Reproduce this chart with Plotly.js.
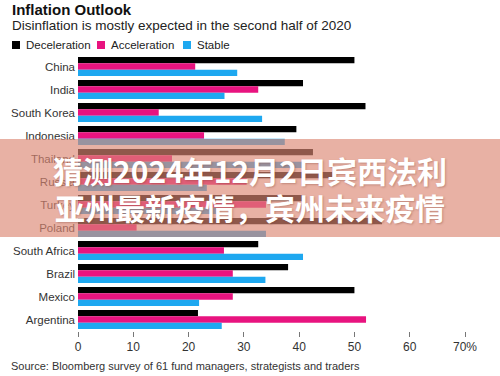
<!DOCTYPE html>
<html><head><meta charset="utf-8">
<script src="https://cdn.plot.ly/plotly-3.0.1.min.js"></script>
<style>html,body{margin:0;padding:0;background:#fff;}#chart{width:500px;height:376px;}</style>
</head><body><div id="chart"></div>
<script>
// ---- data ----
const countries = ['China','India','South Korea','Indonesia','Thailand','Russia','Turkey','Poland','South Africa','Brazil','Mexico','Argentina'];
const seriesNames = ['Deceleration','Acceleration','Stable'];
const deceleration = [50,40.7,52,39.5,42.5,46,41,55,32.6,38,50,21.7];
const acceleration = [21.2,32.6,14.6,22.8,17,30.5,34,10.6,26.4,28,28,52.1];
const stable = [28.8,26.5,33.3,37.4,40.5,23.3,25,34,40.7,33.9,21.9,26];
const xTickValues = [0,10,20,30,40,50,60,70];
const xTickLabels = ['0','10','20','30','40','50','60','70%'];
const titleText = 'Inflation Outlook';
const subtitleText = 'Disinflation is mostly expected in the second half of 2020';
const sourceText = 'Source: Bloomberg survey of 61 fund managers, strategists and traders';
const bannerLines = ['猜测2024年12月2日宾西法利','亚州最新疫情，宾州未来疫情'];

// ---- style ----
const colors = ['#000000','#E8137F','#1EA8F0'];
const FONT = 'Liberation Sans, Arial, Helvetica, sans-serif';
const W = 500, H = 376, L = 78, R = 35, T = 55, B = 45;
const pw = W - L - R, ph = H - T - B;
const px = x => (x - L) / pw;
const py = y => (H - B - y) / ph;

const values = [deceleration, acceleration, stable];
const traces = values.map((v, i) => ({
  type: 'bar', orientation: 'h', name: seriesNames[i],
  x: v, y: countries, marker: {color: colors[i]},
  showlegend: false, hoverinfo: 'none'
}));

const legendX = [12, 97, 183];
const shapes = [];
const annotations = [];
seriesNames.forEach((n, i) => {
  shapes.push({type: 'rect', xref: 'paper', yref: 'paper',
    x0: px(legendX[i]), x1: px(legendX[i] + 8), y0: py(49), y1: py(41),
    fillcolor: colors[i], line: {width: 0}});
  annotations.push({text: n, xref: 'paper', yref: 'paper', x: px(legendX[i] + 12), y: py(45),
    xanchor: 'left', yanchor: 'middle', showarrow: false,
    font: {family: FONT, size: 11.5, color: '#222'}});
});
annotations.push({text: subtitleText, xref: 'paper', yref: 'paper', x: px(10), y: py(26),
  xanchor: 'left', yanchor: 'middle', showarrow: false,
  font: {family: FONT, size: 13.5, color: '#222'}});
annotations.push({text: sourceText, xref: 'paper', yref: 'paper', x: px(9), y: py(366),
  xanchor: 'left', yanchor: 'middle', showarrow: false,
  font: {family: FONT, size: 11, color: '#333'}});

// semi-transparent banner
shapes.push({type: 'rect', xref: 'paper', yref: 'paper', layer: 'above',
  x0: px(0), x1: px(W), y0: py(237), y1: py(139),
  fillcolor: 'rgba(220,135,115,0.65)', line: {width: 0}});
const bannerY = [170, 207];
bannerLines.forEach((t, i) => {
  annotations.push({text: t, xref: 'paper', yref: 'paper', x: px(250), y: py(bannerY[i]),
    xanchor: 'center', yanchor: 'middle', showarrow: false,
    font: {family: 'Noto Sans CJK SC, sans-serif', size: 30, weight: 700, color: '#ffffff',
      shadow: '1px 1px 2px rgba(120,60,50,0.35)'}});
});

const layout = {
  width: W, height: H,
  margin: {l: L, r: R, t: T, b: B, pad: 0},
  paper_bgcolor: '#fff', plot_bgcolor: '#fff',
  barmode: 'group', bargap: 0.17, bargroupgap: 0,
  title: {text: titleText, x: 12 / W, xref: 'container', xanchor: 'left',
    y: 1 - 10 / H, yref: 'container', yanchor: 'middle',
    font: {family: FONT, size: 15, weight: 700, color: '#111'}},
  xaxis: {range: [0, 70], tickvals: xTickValues, ticktext: xTickLabels,
    ticks: 'outside', ticklen: 5, tickwidth: 1, tickcolor: '#777',
    showgrid: false, zeroline: false, showline: false, fixedrange: true,
    tickfont: {family: FONT, size: 12, color: '#333'}},
  yaxis: {type: 'category', autorange: 'reversed', ticks: '', showgrid: false,
    zeroline: false, showline: false, ticklabelstandoff: 2,
    tickfont: {family: FONT, size: 11.5, color: '#333'}},
  shapes: shapes, annotations: annotations,
  showlegend: false
};
Plotly.newPlot('chart', traces, layout, {displayModeBar: false, staticPlot: true});
</script></body></html>
